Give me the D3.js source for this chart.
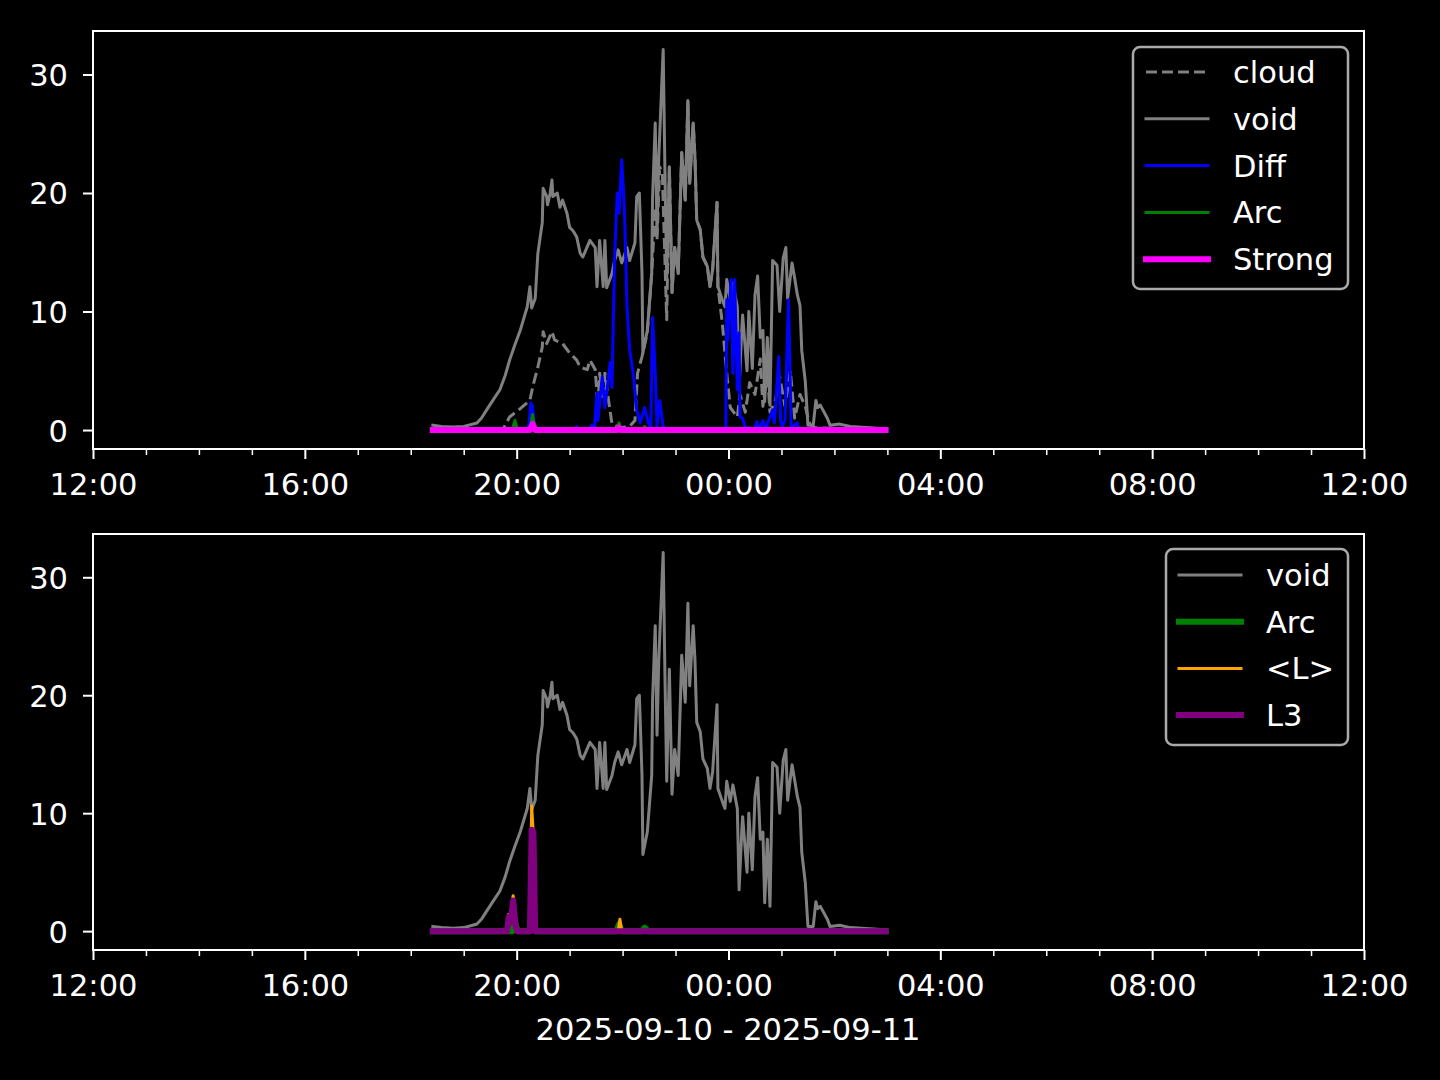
<!DOCTYPE html>
<html><head><meta charset="utf-8">
<script src="https://cdn.jsdelivr.net/npm/d3@7"></script>
<style>body{margin:0;background:#000}text{font-family:"DejaVu Sans",sans-serif;fill:#fff}</style>
</head><body><svg id="c" width="1440" height="1080"></svg>
<script>
// ---------- data (clock time, value); times >= 12:00 are on 2025-09-10, else 2025-09-11 ----------
const voidSeries = [["18:25",0.4],["18:35",0.3],["18:48",0.25],["19:00",0.3],["19:10",0.5],["19:15",0.6],["19:20",1.0],["19:26",1.7],["19:33",2.5],["19:41",3.4],["19:47",4.6],["19:52",5.9],["19:58",7.2],["20:04",8.4],["20:08",9.4],["20:12",10.4],["20:15",12.1],["20:17",10.3],["20:21",11.1],["20:24",14.9],["20:29",17.5],["20:30",20.4],["20:34",19.7],["20:35",19.0],["20:38",20.0],["20:40",21.1],["20:41",19.7],["20:46",20.0],["20:49",18.8],["20:52",19.4],["20:57",18.3],["21:00",17.1],["21:04",16.8],["21:08",16.3],["21:12",14.9],["21:15",14.6],["21:23",16.0],["21:29",15.4],["21:31",12.1],["21:34",16.0],["21:38",12.1],["21:40",16.0],["21:42",12.0],["21:48",13.2],["21:51",14.3],["21:55",15.2],["21:59",14.1],["22:05",15.4],["22:08",14.3],["22:14",15.8],["22:16",19.7],["22:19",20.0],["22:22",13.2],["22:23",6.5],["22:28",8.4],["22:33",13.2],["22:34",19.7],["22:37",25.9],["22:39",16.6],["22:41",23.0],["22:46",32.1],["22:48",21.7],["22:50",12.7],["22:53",22.2],["22:56",11.6],["22:59",15.4],["23:03",13.2],["23:07",23.4],["23:11",19.4],["23:14",27.8],["23:16",20.8],["23:20",25.9],["23:22",23.0],["23:24",17.7],["23:28",16.9],["23:31",14.6],["23:36",13.8],["23:39",12.1],["23:42",13.5],["23:47",19.2],["23:48",12.1],["23:53",11.0],["23:56",10.4],["23:58",12.7],["00:02",11.0],["00:05",12.4],["00:10",10.4],["00:12",3.5],["00:15",8.4],["00:16",9.7],["00:21",5.0],["00:23",10.0],["00:27",5.2],["00:30",11.4],["00:33",13.0],["00:36",7.8],["00:39",8.4],["00:41",2.4],["00:44",7.8],["00:47",2.1],["00:50",14.3],["00:55",13.9],["00:58",10.0],["01:02",14.5],["01:05",15.4],["01:07",11.1],["01:12",14.1],["01:15",12.8],["01:18",11.4],["01:21",10.5],["01:23",6.7],["01:27",4.1],["01:30",0.4],["01:36",0.4],["01:39",2.5],["01:41",1.9],["01:44",2.1],["01:52",1.0],["01:55",0.4],["02:06",0.5],["02:18",0.3],["02:40",0.2],["02:58",0.1]];

const cloudSeries = [["18:25",0],["19:44",0],["19:52",1.1],["20:04",1.8],["20:15",2.5],["20:18",3.6],["20:24",5.3],["20:29",7.0],["20:30",8.3],["20:34",7.3],["20:40",8.3],["20:43",7.6],["20:52",7.3],["21:00",6.5],["21:08",5.9],["21:12",5.3],["21:20",5.1],["21:23",5.9],["21:29",5.1],["21:32",1.9],["21:34",4.8],["21:38",2.5],["21:40",4.8],["21:43",3.1],["21:48",0.5],["21:57",0.2],["22:08",0.3],["22:14",0.8],["22:17",4.8],["22:22",6.2],["22:28",8.2],["22:33",13.2],["22:37",18.8],["22:39",16.0],["22:42",22.2],["22:45",21.7],["22:50",9.3],["22:53",22.2],["22:56",11.6],["22:59",15.4],["23:03",13.2],["23:07",23.4],["23:11",19.4],["23:14",27.8],["23:16",20.8],["23:20",25.9],["23:22",23.0],["23:24",17.7],["23:28",16.9],["23:31",14.6],["23:36",13.8],["23:39",12.1],["23:42",13.5],["23:47",19.2],["23:48",12.1],["23:53",9.0],["23:58",4.8],["00:02",1.9],["00:10",1.1],["00:13",3.0],["00:19",1.5],["00:24",4.0],["00:30",3.0],["00:36",6.0],["00:39",2.0],["00:44",5.0],["00:47",1.5],["00:53",2.5],["00:58",4.5],["01:04",2.0],["01:10",5.0],["01:15",1.0],["01:21",3.0],["01:27",2.0],["01:32",0.5],["01:38",0.2],["02:58",0]];

const diffSeries = [["18:25",0],["20:12",0],["20:14",0.5],["20:16",2.3],["20:18",2.0],["20:20",0.5],["20:23",0],["21:05",0],["21:08",0.3],["21:10",0],["21:22",0],["21:25",0.4],["21:28",0],["21:31",3.1],["21:32",0.8],["21:37",4.5],["21:40",1.9],["21:46",5.7],["21:48",3.6],["21:51",14.6],["21:54",20.0],["21:56",18.3],["21:59",22.8],["22:02",18.8],["22:05",10.4],["22:08",6.8],["22:12",4.8],["22:16",1.7],["22:20",0.6],["22:25",1.9],["22:29",0.6],["22:32",0.3],["22:34",9.5],["22:37",4.8],["22:39",0.3],["22:42",2.5],["22:46",0.3],["22:48",0],["23:57",0],["23:58",11.0],["23:59",7.6],["00:03",12.7],["00:05",4.8],["00:07",12.7],["00:10",3.4],["00:12",8.2],["00:13",1.1],["00:16",1.0],["00:19",0.2],["00:30",0.1],["00:32",0.7],["00:35",0.1],["00:39",0.8],["00:42",0.1],["00:50",1.7],["00:52",0.6],["00:57",6.2],["00:59",0.8],["01:01",0.3],["01:04",0.8],["01:08",11.0],["01:11",0.3],["01:18",0.6],["01:20",0],["02:58",0]];

const arcSeries = [["18:25",0],["19:55",0],["19:58",0.8],["20:01",0],["20:15",0],["20:18",1.3],["20:21",0],["21:53",0],["21:56",0.6],["21:59",0],["22:22",0],["22:25",0.3],["22:29",0],["02:58",0]];

const strongSeries = [["18:25",0],["20:15",0],["20:18",0.5],["20:21",0],["21:54",0],["21:56",0.2],["21:58",0],["02:58",0]];

const meanLSeries = [["18:25",0],["19:49",0],["19:51",1.4],["19:53",0.8],["19:56",3.0],["19:59",0.5],["20:01",0],["20:15",0],["20:17",10.6],["20:19",8.0],["20:21",0.3],["20:22",0],["21:55",0],["21:57",1.0],["21:59",0],["02:58",0]];

const l3Series = [["18:25",0],["19:49",0],["19:51",1.2],["19:53",0.7],["19:56",2.6],["19:59",0.3],["20:01",0],["20:15",0],["20:17",8.6],["20:19",8.4],["20:21",0],["02:58",0]];

const yTicks = [0, 10, 20, 30];
const xLabel = "2025-09-10 - 2025-09-11";

// ---------- helpers ----------
function T(s){const [h,m]=s.split(":").map(Number);return h>=12?new Date(2025,8,10,h,m):new Date(2025,8,11,h,m);}
const svg = d3.select("#c");
svg.append("rect").attr("width",1440).attr("height",1080).attr("fill","#000");

const t0 = new Date(2025,8,10,12), t1 = new Date(2025,8,11,12);
const x = d3.scaleTime().domain([t0,t1]).range([93,1364]);
const majors = d3.timeHour.every(4).range(t0, new Date(+t1+1));
const minors = d3.timeHour.range(t0, new Date(+t1+1)).filter(d=>d.getHours()%4!==0);
const FS = 30.5;

function panel(top, bottom, series, legend, legendBox){
  const y = d3.scaleLinear().domain([-1.6, 33.67]).range([bottom, top]);
  const g = svg.append("g");
  const line = d3.line().x(d=>x(T(d[0]))).y(d=>y(d[1]));
  series.forEach(s=>{
    g.append("path").datum(s.data).attr("d",line).attr("fill","none")
      .attr("stroke",s.color).attr("stroke-width",s.w)
      .attr("stroke-dasharray",s.dash||null)
      .attr("stroke-linejoin","round").attr("stroke-linecap",s.dash?"butt":"square");
  });
  g.append("rect").attr("x",93).attr("y",top).attr("width",1364-93).attr("height",bottom-top)
    .attr("fill","none").attr("stroke","#fff").attr("stroke-width",2);
  const xa = g.append("g").attr("transform",`translate(0,${bottom})`)
    .call(d3.axisBottom(x).tickValues(majors).tickFormat(d3.timeFormat("%H:%M")).tickSize(10).tickPadding(14));
  xa.select(".domain").remove();
  xa.selectAll("line").attr("stroke","#fff").attr("stroke-width",2);
  xa.selectAll("text").attr("font-size",FS).attr("fill","#fff").attr("font-family","DejaVu Sans");
  const xm = g.append("g").attr("transform",`translate(0,${bottom})`)
    .call(d3.axisBottom(x).tickValues(minors).tickFormat("").tickSize(6));
  xm.select(".domain").remove();
  xm.selectAll("line").attr("stroke","#fff").attr("stroke-width",1.5);
  const ya = g.append("g").attr("transform","translate(93,0)")
    .call(d3.axisLeft(y).tickValues(yTicks).tickSize(10).tickPadding(15));
  ya.select(".domain").remove();
  ya.selectAll("line").attr("stroke","#fff").attr("stroke-width",2);
  ya.selectAll("text").attr("font-size",FS).attr("fill","#fff").attr("font-family","DejaVu Sans").attr("dy","0.36em");
  const L = legendBox;
  g.append("rect").attr("x",L.x0).attr("y",L.y0).attr("width",L.x1-L.x0).attr("height",L.y1-L.y0)
    .attr("rx",7).attr("fill","#000").attr("stroke","#aaaaaa").attr("stroke-width",2.5);
  legend.forEach((s,i)=>{
    const cy = L.rowY + i*L.dy;
    g.append("line").attr("x1",L.lx0).attr("x2",L.lx1).attr("y1",cy).attr("y2",cy)
      .attr("stroke",s.color).attr("stroke-width",s.w).attr("stroke-dasharray",s.dash||null)
      .attr("stroke-linecap",s.dash?"butt":"square");
    g.append("text").attr("x",L.tx).attr("y",cy).attr("dy","0.36em").attr("font-size",FS).text(s.name);
  });
  return y;
}

const grey = "#808080";
const topSeries = [
  {name:"cloud", data:cloudSeries, color:grey, w:3, dash:"11,5"},
  {name:"void", data:voidSeries, color:grey, w:3},
  {name:"Diff", data:diffSeries, color:"#0000ff", w:3},
  {name:"Arc", data:arcSeries, color:"#008000", w:3},
  {name:"Strong", data:strongSeries, color:"#ff00ff", w:6}
];
panel(31, 449, topSeries, topSeries,
  {x0:1133,x1:1348,y0:47,y1:289,lx0:1146,lx1:1208,tx:1233,rowY:72,dy:46.8});

const botSeries = [
  {name:"void", data:voidSeries, color:grey, w:3},
  {name:"Arc", data:arcSeries, color:"#008000", w:6},
  {name:"<L>", data:meanLSeries, color:"#ffa500", w:3},
  {name:"L3", data:l3Series, color:"#800080", w:6}
];
panel(534, 950, botSeries, botSeries,
  {x0:1166,x1:1348,y0:549,y1:745,lx0:1179,lx1:1241,tx:1266,rowY:575,dy:46.7});

svg.append("text").attr("x",728).attr("y",1040).attr("text-anchor","middle").attr("font-size",FS).text(xLabel);
</script></body></html>
